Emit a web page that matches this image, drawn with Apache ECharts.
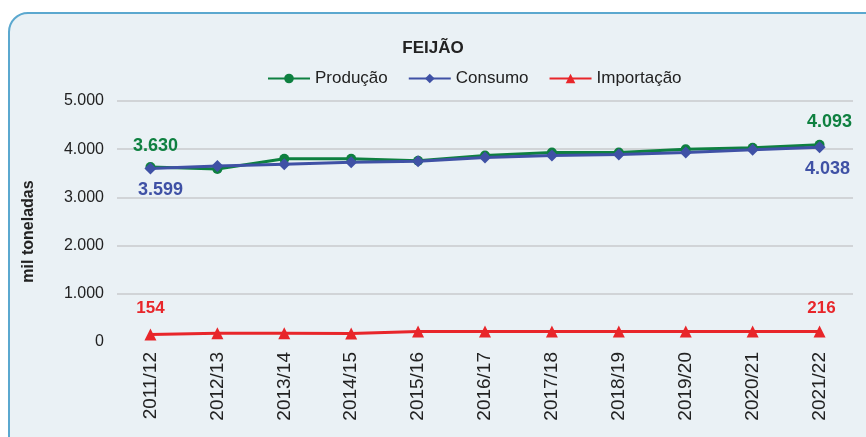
<!DOCTYPE html>
<html>
<head>
<meta charset="utf-8">
<script src="https://cdn.jsdelivr.net/npm/echarts@6/dist/echarts.min.js"></script>
<style>
  html, body { margin: 0; padding: 0; background: #fff; }
  #box {
    position: absolute; left: 8px; top: 12px; width: 880px; height: 450px;
    border: 2px solid #5ba8cf; border-radius: 20px; background: #eaf1f5;
  }
  #chart { position: absolute; left: 0; top: 0; width: 866px; height: 437px; }
</style>
</head>
<body>
<div id="box"></div>
<div id="chart"></div>
<script>
const safras = ['2011/12', '2012/13', '2013/14', '2014/15', '2015/16', '2016/17', '2017/18', '2018/19', '2019/20', '2020/21', '2021/22']
const producao = [3630, 3590, 3800, 3800, 3760, 3870, 3930, 3930, 4000, 4030, 4093]
const consumo = [3599, 3650, 3690, 3730, 3750, 3830, 3870, 3890, 3930, 3990, 4038]
const importacao = [154, 180, 180, 175, 216, 216, 216, 216, 216, 216, 216]

const fmt = v => v >= 1000 ? String(Math.floor(v / 1000)) + '.' + String(v % 1000).padStart(3, '0') : String(v)

// só o primeiro e o último ponto levam rótulo
function comRotulo (values, color, pos, offFirst, offLast, size) {
  return values.map((v, i) => {
    if (i !== 0 && i !== values.length - 1) return v
    return {
      value: v,
      label: {
        show: true,
        position: pos,
        offset: i === 0 ? offFirst : offLast,
        formatter: p => fmt(p.value),
        color: color,
        fontSize: size,
        fontWeight: 'bold',
        fontFamily: 'Liberation Sans'
      }
    }
  })
}

const chart = echarts.init(document.getElementById('chart'))
chart.setOption({
  backgroundColor: 'transparent',
  textStyle: { fontFamily: 'Liberation Sans' },
  title: {
    text: 'FEIJÃO',
    left: 'center',
    top: 35,
    textStyle: { fontSize: 17, fontWeight: 'bold', color: '#222' }
  },
  legend: {
    top: 65,
    left: 262,
    itemWidth: 42,
    itemHeight: 12,
    itemGap: 20,
    textStyle: { fontSize: 17, color: '#222' },
    data: ['Produção', 'Consumo', 'Importação']
  },
  grid: { left: 117, right: 13, top: 101, bottom: 95 },
  xAxis: {
    type: 'category',
    data: safras,
    axisLine: { show: false },
    axisTick: { show: false },
    axisLabel: { rotate: 90, fontSize: 19, color: '#222', margin: 10 }
  },
  yAxis: {
    type: 'value',
    min: 0,
    max: 5000,
    interval: 1000,
    name: 'mil toneladas',
    nameLocation: 'middle',
    nameGap: 80,
    nameTextStyle: { fontSize: 16, fontWeight: 'bold', color: '#222', padding: [0, 20, 0, 0] },
    axisLabel: { fontSize: 16, color: '#222', margin: 13, formatter: v => fmt(v) },
    splitLine: {
      lineStyle: { color: '#c8cacc', width: 1.5 },
      showMinLine: false
    }
  },
  series: [
    {
      name: 'Produção',
      type: 'line',
      data: comRotulo(producao, '#0e8040', 'top', [5, -2], [10, -4], 18),
      symbol: 'circle',
      symbolSize: 10,
      color: '#0e8040',
      lineStyle: { width: 3 }
    },
    {
      name: 'Consumo',
      type: 'line',
      data: comRotulo(consumo, '#3f51a5', 'bottom', [10, 2], [8, 2], 18),
      symbol: 'diamond',
      symbolSize: 12,
      color: '#3f51a5',
      lineStyle: { width: 3 }
    },
    {
      name: 'Importação',
      type: 'line',
      data: comRotulo(importacao, '#e8262a', 'top', [0, -7], [2, -4], 17),
      symbol: 'triangle',
      symbolSize: 12,
      color: '#e8262a',
      lineStyle: { width: 3 }
    }
  ]
})
</script>
</body>
</html>
